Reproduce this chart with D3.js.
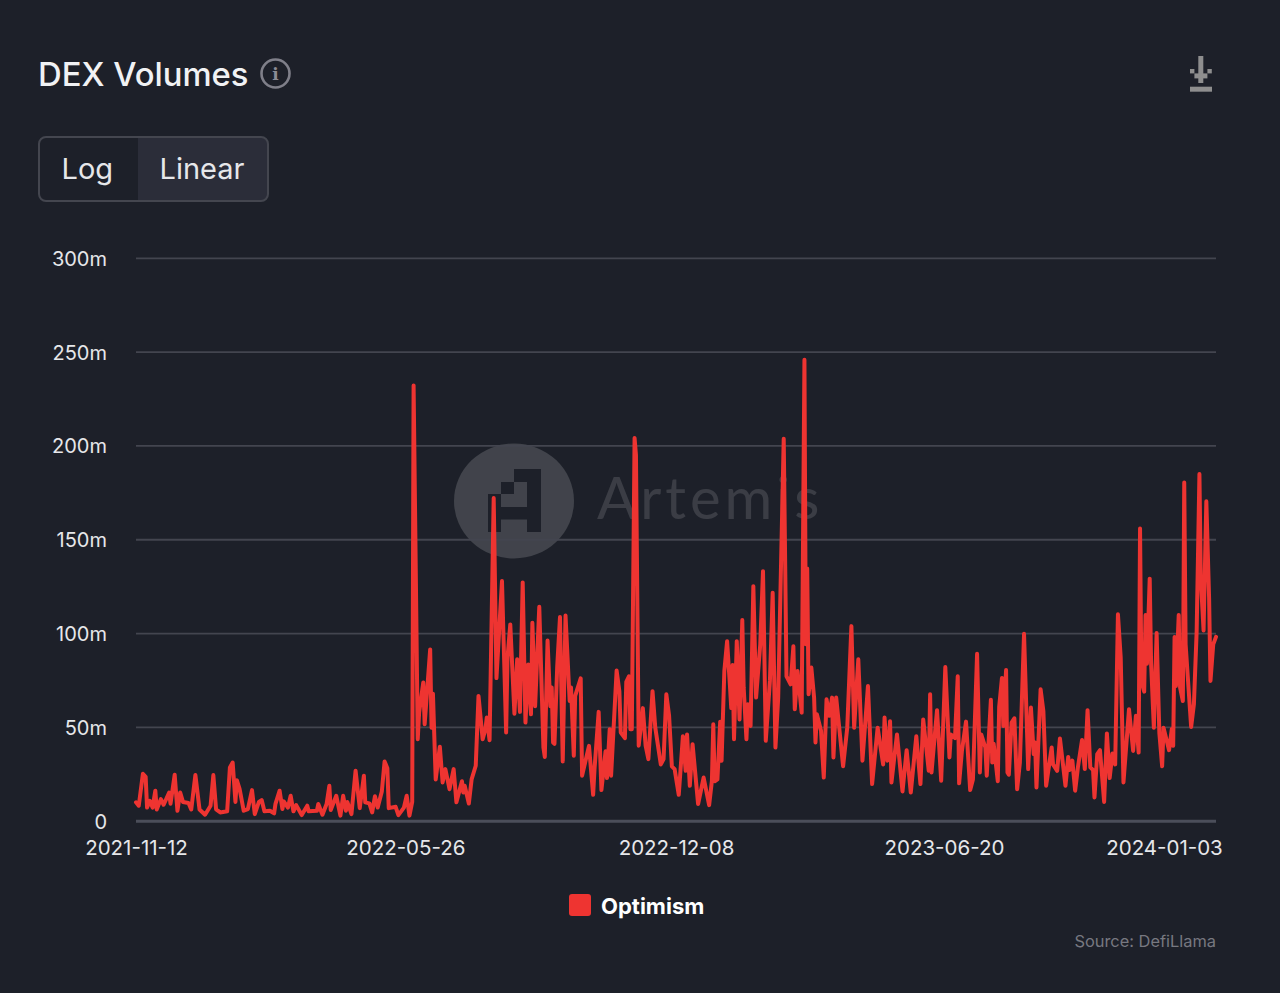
<!DOCTYPE html>
<html>
<head>
<meta charset="utf-8">
<script src="https://cdn.jsdelivr.net/npm/d3@7"></script>
<style>
  html, body { margin: 0; padding: 0; background: #1d2029; }
  svg { display: block; font-family: Inter, "Noto Sans", sans-serif; }
  .domain { display: none; }
</style>
</head>
<body>
<div id="chart"></div>
<script>
const startDate = "2021-11-12";
const tickDates = ["2021-11-12", "2022-05-26", "2022-12-08", "2023-06-20", "2024-01-03"];
const yTicks = [0, 50, 100, 150, 200, 250, 300];
const seriesName = "Optimism";

// days since startDate, turning points
const days = [0,2,5,7,8,10,12,14,15,18,20,24,25,28,30,32,34,38,40,43,46,50,54,56,58,61,66,68,70,72,73,75,78,81,84,86,89,91,93,97,100,101,104,106,107,110,112,114,116,120,124,125,131,132,135,138,140,141,145,148,150,152,153,156,159,162,165,166,169,171,173,175,178,180,182,183,188,190,194,196,198,200,
  201,204,205,208,209,213,214,215,217,220,222,224,227,230,232,236,237,238,241,243,246,248,251,253,254,256,259,261,265,268,269,271,274,276,278,280,282,284,286,287,289,292,295,296,298,300,301,302,303,305,307,309,311,314,315,317,318,322,323,328,331,332,335,337,340,341,343,344,348,350,351,354,355,357,358,359,361,362,364,367,369,371,374,376,380,382,384,386,388,390,393,396,398,399,401,403,
  407,411,415,417,418,419,421,423,424,426,428,430,431,432,433,435,437,439,440,442,443,445,447,449,452,454,456,459,461,463,465,469,471,474,476,477,479,482,484,485,486,487,489,491,492,493,496,498,500,502,504,505,507,512,515,518,520,523,526,530,533,537,541,542,544,546,547,551,555,558,561,565,568,570,574,575,576,580,583,586,589,590,593,595,
  596,598,601,604,606,609,611,612,615,616,619,620,621,624,625,627,628,630,631,632,634,636,638,640,643,646,648,650,651,652,655,657,659,663,664,667,669,673,675,676,678,680,682,685,687,689,691,693,694,696,698,701,703,705,707,709,711,713,715,719,722,724,726,727,728,730,731,732,734,735,737,739,741,743,744,748,750,751,752,753,755,756,758,759,760,764,766,768,770,771,773,775,777,778,780,782];

// $ millions
const volumes = [9.8,8,25,23.4,7,10.6,7,16,6,11.5,8.5,15,9,24.5,5.3,15,10,9.4,6,24.3,6,3.2,8,24.3,6,4.4,5,28.4,31,10,21.6,17,5.3,6.2,16.3,3.5,10,11,5,5.3,3.9,9,16,6.2,10.3,7,13.3,5,8.3,3,8,5,5.3,8.9,3.2,8.9,18.6,5.7,13.3,2.7,13.3,5.3,10,3.5,26.6,6.7,24,9.8,9.2,4.4,13,7,15.6,31.6,28,6.7,7.4,3,7,13.3,2.7,10,
  232,43.4,57.6,73.6,51.4,91.3,49.6,67.7,22,39.4,20.4,27.5,16.8,27.5,9.8,21,15,18.6,9.2,22,29.3,66.5,43.4,48.8,55,42.9,172,76,127.7,47,86.9,104.6,57,86,58,127,52.3,83.3,56.7,105.5,61,114,39,34,96,61,71,41.7,41,82.4,108.5,31.6,109.4,63.8,71,34.6,66.5,75.9,24,39.9,13.8,27.5,58,16.3,37,22.7,48.8,24,80,69,47,44,74,77,48.8,48.8,204,195,40,60,40,32.8,69,49.6,30,32.8,67.4,55.9,29,27.5,13.8,45,26.6,46,18.6,40.8,
  8.9,23,8.3,21.3,51.4,21,22,52.8,32,79.8,95.7,72.7,60,83,43.4,95.7,54,107,71,43.4,62,50.5,125,65.6,94,133,42.6,74.5,121.5,39,65.6,203.5,77,72.7,93,59.4,79.8,57.6,245.6,94,134.4,67.4,81.6,65.6,41.7,56.7,47.9,23,64.7,55.9,65.6,33.7,65.6,29,49.6,103.7,49.6,86,32,71.8,19.5,49.6,30,55,32,53,20.4,46,15.6,37.6,15,45,19.5,54,26.6,67.4,25.7,58.9,21.3,81.9,33.7,46,44,77,
  19.9,37,52.8,16.3,22,89,25.7,46,39,24,64.4,31,41,21,60.6,76,50.5,80.3,25.7,24.5,52.3,54.6,16.8,31,99.6,27.5,60.3,35.5,41.7,17.7,70,58.5,18.6,39,30,26.6,43.8,18.6,34,27,32,16,28.4,43,27.5,58.9,28.4,27,12.4,35.5,37.6,10,46.5,22.7,35.8,30,110,87,20.4,59.4,37.2,55.9,36.3,155.7,74.5,68.8,109.6,83.7,129,84,49.6,100,46.5,29,49.6,37.6,48.8,39.9,97.9,71.8,109.6,70.9,63.8,180.3,94,50,62,101,184.8,129,101.4,170.2,118.8,74.5,94,98];

const width = 1280, height = 993;
const margin = { left: 136, right: 64, top: 257.8, bottom: 172.3 };
const bg = "#1d2029", red = "#ee3431", gridCol = "#43454f", textCol = "#e6e7ea";

let parseDate = d3.utcParse("%Y-%m-%d");
let t0 = parseDate(startDate);
let dates = days.map(d => d3.utcDay.offset(t0, d));

let x = d3.scaleUtc()
    .domain([t0, parseDate(tickDates[tickDates.length - 1])])
    .range([margin.left, width - margin.right]);
let y = d3.scaleLinear()
    .domain([0, 300])
    .range([height - margin.bottom, margin.top]);

let svg = d3.select("#chart").append("svg")
    .attr("width", width)
    .attr("height", height);

svg.append("rect").attr("width", width).attr("height", height).attr("fill", bg);

// header
svg.append("text")
    .attr("x", 38).attr("y", 85.5)
    .attr("font-size", 32.8).attr("font-weight", 500).attr("fill", "#f1f2f4")
    .text("DEX Volumes");

let info = svg.append("g").attr("transform", "translate(275.5,73.5)");
info.append("circle").attr("r", 14).attr("fill", "none").attr("stroke", "#7f7f89").attr("stroke-width", 2.6);
info.append("text")
    .attr("text-anchor", "middle").attr("y", 6.5)
    .attr("font-size", 17).attr("font-weight", 700).attr("font-family", "'DejaVu Serif', serif")
    .attr("fill", "#8b8b94")
    .text("i");

// download icon
let dl = [[1198.3, 56, 5, 27], [1190, 69, 4.4, 4.4], [1207.4, 69, 4.4, 4.4], [1194.4, 73.4, 13, 5], [1190, 86.7, 22, 5]];
svg.append("g").selectAll("rect").data(dl).enter().append("rect")
    .attr("x", d => d[0]).attr("y", d => d[1]).attr("width", d => d[2]).attr("height", d => d[3])
    .attr("fill", "#8e8e8e");

// Log / Linear toggle
svg.append("path")
    .attr("d", "M138 137.5H261a7 7 0 0 1 7 7V194a7 7 0 0 1 -7 7H138Z")
    .attr("fill", "#2b2d39");
svg.append("rect")
    .attr("x", 39).attr("y", 137).attr("width", 229).attr("height", 64).attr("rx", 7)
    .attr("fill", "none").attr("stroke", "#44464f").attr("stroke-width", 2);
svg.append("text").attr("x", 61.5).attr("y", 179).attr("font-size", 29).attr("fill", textCol).text("Log");
svg.append("text").attr("x", 159.5).attr("y", 179).attr("font-size", 29).attr("fill", textCol).text("Linear");

// watermark
let wm = svg.append("g");
wm.append("ellipse").attr("cx", 514).attr("cy", 501).attr("rx", 60).attr("ry", 57.5).attr("fill", "#fff").attr("opacity", 0.16);
let logoBlocks = [[527, 469, 14, 63], [514, 469, 13, 13], [501, 482, 13, 12], [488, 494, 13, 38], [501, 507, 26, 12.5]];
wm.selectAll("rect").data(logoBlocks).enter().append("rect")
    .attr("x", d => d[0]).attr("y", d => d[1]).attr("width", d => d[2]).attr("height", d => d[3])
    .attr("fill", bg);
wm.append("text")
    .attr("x", 597).attr("y", 519)
    .attr("font-size", 58).attr("font-family", "Lato, Inter, sans-serif").attr("letter-spacing", 4)
    .attr("fill", "#fff").attr("opacity", 0.13)
    .text("Artemis");

// y axis + grid
let yAxis = d3.axisLeft(y)
    .tickValues(yTicks)
    .tickSize(-(width - margin.left - margin.right))
    .tickPadding(29)
    .tickFormat(d => d === 0 ? "0" : d + "m");
let yG = svg.append("g")
    .attr("transform", `translate(${margin.left},0)`)
    .call(yAxis);
yG.selectAll("line")
    .attr("stroke", d => d === 0 ? "#4b4e5a" : gridCol)
    .attr("stroke-width", d => d === 0 ? 3 : 1.8);
yG.selectAll("text")
    .attr("font-size", 20).attr("fill", textCol).attr("font-family", "Inter, sans-serif")
    .attr("dy", "0.37em");

// x axis
let xAxis = d3.axisBottom(x)
    .tickValues(tickDates.map(parseDate))
    .tickSize(0)
    .tickPadding(20)
    .tickFormat(d3.utcFormat("%Y-%m-%d"));
let xG = svg.append("g")
    .attr("transform", `translate(0,${height - margin.bottom})`)
    .call(xAxis);
xG.selectAll("text")
    .attr("font-size", 20.5).attr("fill", textCol).attr("font-family", "Inter, sans-serif")
    .attr("dx", (d, i) => i === tickDates.length - 1 ? -52 : 0);

// series
let line = d3.line()
    .x((d, i) => x(dates[i]))
    .y(d => y(d));
svg.append("path")
    .datum(volumes)
    .attr("d", line)
    .attr("fill", "none")
    .attr("stroke", red)
    .attr("stroke-width", 4)
    .attr("stroke-linejoin", "round")
    .attr("stroke-linecap", "round");

// legend
svg.append("rect")
    .attr("x", 569).attr("y", 894).attr("width", 22).attr("height", 22).attr("rx", 3)
    .attr("fill", red);
svg.append("text")
    .attr("x", 601).attr("y", 914)
    .attr("font-size", 22).attr("font-weight", 700).attr("fill", "#fff")
    .text(seriesName);

// source note
svg.append("text")
    .attr("x", 1216).attr("y", 947)
    .attr("text-anchor", "end")
    .attr("font-size", 16.4).attr("fill", "#777880")
    .text("Source: DefiLlama");
</script>
</body>
</html>
